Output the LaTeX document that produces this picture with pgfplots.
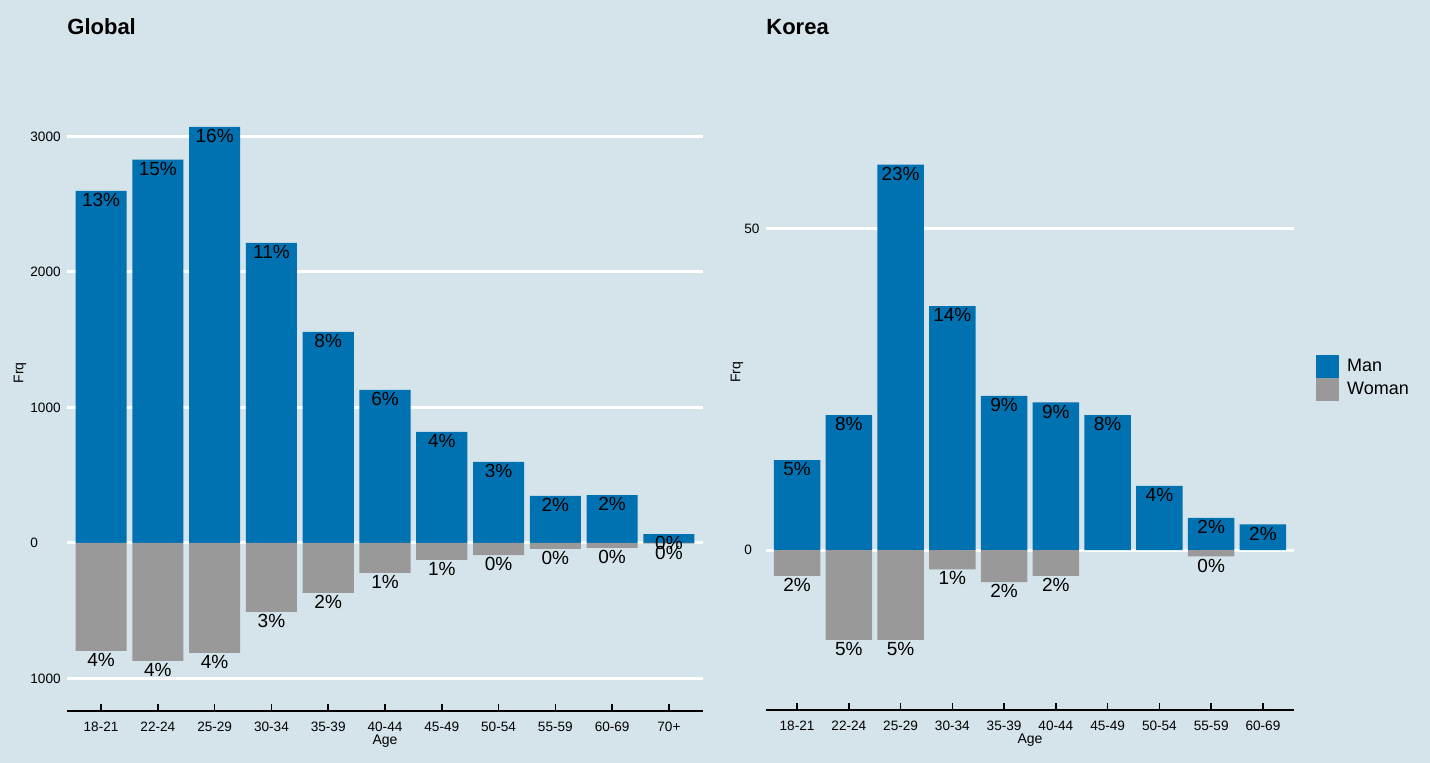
\documentclass[border=0pt]{standalone}
\usepackage{pgfplots}
\pgfplotsset{compat=1.18}
\usepackage{pgfplotstable}
\usepackage{fontspec}
\setmainfont{Liberation Sans}
\definecolor{bgcol}{HTML}{D5E4EB}
\definecolor{manblue}{HTML}{0072B2}
\definecolor{womgrey}{HTML}{999999}

\pgfplotstableread{
x man lab
0 2598 13
1 2830 15
2 3070 16
3 2214 11
4 1557 8
5 1129 6
6 819 4
7 598 3
8 347 2
9 354 2
10 66 0
}\globalman
\pgfplotstableread{
x woman lab
0 -797 4
1 -870 4
2 -812 4
3 -509 3
4 -369 2
5 -221 1
6 -125 1
7 -89 0
8 -44 0
9 -37 0
10 -4 0
}\globalwoman
\pgfplotstableread{
x man lab
0 14 5
1 21 8
2 60 23
3 38 14
4 24 9
5 23 9
6 21 8
7 10 4
8 5 2
9 4 2
}\koreaman
\pgfplotstableread{
x woman lab
0 -4 2
1 -14 5
2 -14 5
3 -3 1
4 -5 2
5 -4 2
8 -1 0
}\koreawoman

\pgfplotsset{
  econ/.style={
    scale only axis,
    anchor=south west,
    axis line style={draw=none},
    ymajorgrids,
    grid style={white, line width=1.5pt},
    xtick pos=left, ytick pos=left,
    tick align=inside,
    major tick length=3.5pt,
    xtick style={black, line width=0.75pt},
    ytick style={draw=none},
    tick label style={font=\fontsize{6.8}{8}\selectfont},
    /pgf/number format/assume math mode=true,
    xticklabel style={inner sep=0pt, anchor=north, yshift=-5.5pt},
    xlabel=Age, ylabel=Frq,
    every axis x label/.style={at={(axis description cs:0.5,0)}, yshift=-15pt, anchor=center, font=\fontsize{7}{8}\selectfont},
    after end axis/.code={\draw[black, line width=0.75pt] (rel axis cs:0,0) -- (rel axis cs:1,0);},
    bar width=0.9,
  },
  manbars/.style={ybar, bar shift=0pt, fill=manblue, draw=none, forget plot,
    nodes near coords={\pgfplotspointmeta\%}, point meta=explicit symbolic,
    every node near coord/.append style={anchor=north, inner sep=1pt, font=\fontsize{9.5}{10}\selectfont, black}},
  wombars/.style={ybar, bar shift=0pt, fill=womgrey, draw=none, forget plot,
    nodes near coords={\pgfplotspointmeta\%}, point meta=explicit symbolic,
    every node near coord/.append style={anchor=north, inner sep=1pt, font=\fontsize{9.5}{10}\selectfont, black}},
}

\begin{document}
\begin{tikzpicture}
\path[use as bounding box, fill=bgcol] (0,0) rectangle (715pt,381.5pt);
\node[anchor=base west, font=\bfseries\fontsize{11}{13}\selectfont, inner sep=0pt] at (33.5pt,364pt) {Global};
\node[anchor=base west, font=\bfseries\fontsize{11}{13}\selectfont, inner sep=0pt] at (383pt,364pt) {Korea};

\begin{axis}[econ,
  at={(33.5pt,26pt)},
  width=318pt, height=338pt,
  xmin=-0.6, xmax=10.6,
  ymin=-1240, ymax=3749,
  xtick={0,...,10},
  xticklabels={18-21,22-24,25-29,30-34,35-39,40-44,45-49,50-54,55-59,60-69,70+},
  ytick={-1000,0,1000,2000,3000},
  yticklabels={1000,0,1000,2000,3000},
  yticklabel style={inner sep=0pt, anchor=west, xshift=-18.5pt},
  every axis y label/.style={at={(axis description cs:-0.074,0.5)}, rotate=90, anchor=center, font=\fontsize{7}{8}\selectfont},
]
\addplot[manbars] table[x=x, y=man, meta=lab] {\globalman};
\addplot[wombars] table[x=x, y=woman, meta=lab] {\globalwoman};
\end{axis}

\begin{axis}[econ,
  at={(383pt,26.5pt)},
  width=264pt, height=337.5pt,
  xmin=-0.6, xmax=9.6,
  ymin=-24.9, ymax=80.2,
  xtick={0,...,9},
  xticklabels={18-21,22-24,25-29,30-34,35-39,40-44,45-49,50-54,55-59,60-69},
  ytick={0,50},
  yticklabel style={inner sep=0pt, anchor=west, xshift=-11pt},
  every axis y label/.style={at={(axis description cs:-0.055,0.5)}, rotate=90, anchor=center, font=\fontsize{7}{8}\selectfont},
  legend style={at={(axis description cs:1.0417,0.4925)}, anchor=west, draw=none, fill=none,
    inner sep=0pt, row sep=0pt, column sep=4pt, font=\fontsize{9}{10}\selectfont,
    nodes={inner sep=0pt, text depth=0pt}},
  legend cell align=left,
]
\addplot[manbars] table[x=x, y=man, meta=lab] {\koreaman};
\addplot[wombars] table[x=x, y=woman, meta=lab] {\koreawoman};
\addlegendimage{legend image code/.code={\fill[manblue] (0pt,-2.3pt) rectangle (11pt,8.7pt);}}
\addlegendentry{\smash{\raisebox{0.4pt}{Man}}}
\addlegendimage{legend image code/.code={\fill[womgrey] (0pt,-2.3pt) rectangle (11pt,8.7pt);}}
\addlegendentry{\smash{\raisebox{0.4pt}{Woman}}}
\end{axis}
\end{tikzpicture}
\end{document}
